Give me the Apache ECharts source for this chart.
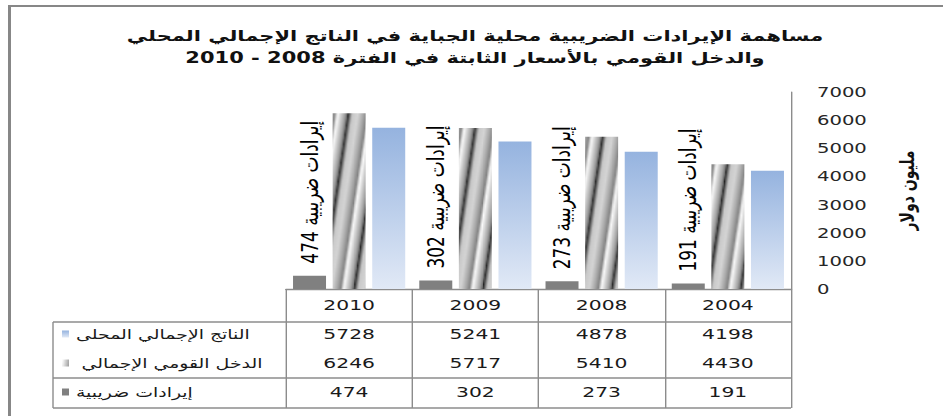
<!DOCTYPE html>
<html>
<head>
<meta charset="utf-8">
<script src="https://cdn.jsdelivr.net/npm/echarts@6/dist/echarts.min.js"></script>
<style>
  html, body { margin: 0; padding: 0; background: #ffffff; overflow: hidden; }
  #stage { position: absolute; left: 0; top: 0; width: 943px; height: 416px; overflow: hidden; background: #fff; }
  #chart { position: absolute; left: 0; top: 0; height: 416px; transform-origin: 0 0; }
</style>
</head>
<body>
<div id="stage"><div id="chart"></div></div>
<script>
// ---- data ----
const years = ['2004', '2008', '2009', '2010'];
const gdpValues = [4198, 4878, 5241, 5728];      // الناتج الإجمالي المحلى
const incomeValues = [4430, 5410, 5717, 6246];   // الدخل القومي الإجمالي
const taxValues = [191, 273, 302, 474];          // إيرادات ضريبية
const yMin = 0, yMax = 7000, yStep = 1000;

const gdpName = 'الناتج الإجمالي المحلى';
const incomeName = 'الدخل القومي الإجمالي';
const taxName = 'إيرادات ضريبية';
const yAxisTitle = 'مليون دولار';
const titleLines = [
  'مساهمة الإيرادات الضريبية محلية الجباية في الناتج الإجمالي المحلي',
  'والدخل القومي بالأسعار الثابتة في الفترة 2008 - 2010'
];

// ---- layout: the chart is drawn narrow and widened horizontally ----
const S = 1.4;                 // horizontal widening factor
const W = 943, H = 416;
const cw = W / S;
const sx = v => v / S;         // page x -> chart x

const gridL = 286, gridR = 791, gridT = 92, gridB = 289;
const tableL = 53, tableBottom = 408;
const rowLines = [322, 378, 408];
const yearRowY = 305;
const rowCenters = [334, 363, 392];
const lineColor = '#8c8c8c';
const textColor = '#1a1a1a';
const numFont = 'DejaVu Sans';
const arFont = 'DejaVu Sans';

// striped texture for the national income bars
function makeStripeTile() {
  const tw = 23, th = 215;
  const c = document.createElement('canvas');
  c.width = tw; c.height = th;
  const ctx = c.getContext('2d');
  const img = ctx.createImageData(tw, th);
  const stops = [[0, 250], [0.08, 215], [0.22, 160], [0.29, 110], [0.32, 35], [0.36, 95],
                 [0.45, 200], [0.62, 212], [0.78, 170], [0.9, 130], [0.95, 205], [1, 250]];
  const prof = t => {
    for (let i = 1; i < stops.length; i++) {
      if (t <= stops[i][0]) {
        const a = stops[i - 1], b = stops[i];
        return a[1] + (b[1] - a[1]) * (t - a[0]) / (b[0] - a[0]);
      }
    }
    return 250;
  };
  const slope = tw / th;
  for (let y = 0; y < th; y++) {
    for (let x = 0; x < tw; x++) {
      let t = ((x + slope * y) / tw) % 1;
      const v = Math.round(prof(t));
      const k = (y * tw + x) * 4;
      img.data[k] = v; img.data[k + 1] = v; img.data[k + 2] = v; img.data[k + 3] = 255;
    }
  }
  ctx.putImageData(img, 0, 0);
  return { image: c, imageWidth: tw, imageHeight: th, repeat: 'repeat' };
}

const el = document.getElementById('chart');
el.style.width = cw + 'px';
el.style.transform = 'scaleX(' + S + ')';
const chart = echarts.init(el, null, { renderer: 'svg', width: cw, height: H });

const stripe = makeStripeTile();
const blueFill = new echarts.graphic.LinearGradient(0, 0, 0, 1, [
  { offset: 0, color: '#95b3df' }, { offset: 1, color: '#e1e9f6' }
]);

// table rows built as extra category axes sharing the grid
function rowAxis(values, centerY) {
  return {
    type: 'category', data: years, inverse: true, gridIndex: 0, position: 'bottom',
    axisLine: { show: false }, axisTick: { show: false }, splitLine: { show: false },
    axisLabel: {
      interval: 0, margin: centerY - gridB, verticalAlign: 'middle',
      fontFamily: numFont, fontSize: 14.5, color: textColor,
      formatter: (v, i) => String(values[i])
    }
  };
}

function legendRow(name, centerY, extraPad) {
  return {
    data: [name], left: sx(62), top: centerY - 8, padding: 0,
    icon: 'rect', itemWidth: sx(7), itemHeight: 7, selectedMode: false,
    textStyle: { fontFamily: arFont, fontSize: 13.5, color: textColor, lineHeight: 16,
                 padding: [0, 0, 0, extraPad || 0] }
  };
}

const hLine = (x1, x2, y) => ({
  type: 'line', silent: true,
  shape: { x1: sx(x1), y1: y, x2: sx(x2), y2: y },
  style: { stroke: lineColor, lineWidth: 1.3 }
});

const option = {
  animation: false,
  backgroundColor: '#ffffff',
  title: {
    text: titleLines.join('\n'),
    left: sx(475), top: 25, padding: 0, textAlign: 'center',
    textStyle: { fontFamily: arFont, fontSize: 15, fontWeight: 'bold', color: '#111', lineHeight: 22 }
  },
  legend: [
    legendRow(gdpName, rowCenters[0]),
    legendRow(incomeName, rowCenters[1], 4),
    legendRow(taxName, rowCenters[2])
  ],
  grid: { left: sx(gridL), right: cw - sx(gridR), top: gridT, bottom: H - gridB, containLabel: false },
  xAxis: [
    {
      type: 'category', data: years, inverse: true, position: 'bottom',
      axisLine: { show: true, lineStyle: { color: lineColor, width: 1.3 } },
      axisTick: { show: true, interval: 0, length: tableBottom - gridB, lineStyle: { color: lineColor, width: 1 } },
      axisLabel: { interval: 0, margin: yearRowY - gridB, verticalAlign: 'middle',
                   fontFamily: numFont, fontSize: 14.5, color: textColor },
      splitLine: { show: false }
    },
    rowAxis(gdpValues, rowCenters[0]),
    rowAxis(incomeValues, rowCenters[1]),
    rowAxis(taxValues, rowCenters[2])
  ],
  yAxis: {
    type: 'value', position: 'right', min: yMin, max: yMax, interval: yStep,
    name: yAxisTitle, nameLocation: 'middle', nameRotate: 90, nameGap: sx(106),
    nameTextStyle: { fontFamily: arFont, fontSize: 14, fontWeight: 'bold', color: '#111' },
    axisLine: { show: true, lineStyle: { color: lineColor, width: 1 } },
    axisTick: { show: false },
    splitLine: { show: false },
    axisLabel: { margin: sx(26), fontFamily: numFont, fontSize: 14, color: '#262626',
                 formatter: v => String(v) }
  },
  series: [
    {
      name: taxName, type: 'bar', data: taxValues, barWidth: sx(33), barGap: '20%',
      itemStyle: { color: '#808080' },
      label: {
        show: true, position: 'top', rotate: 90, align: 'left', verticalAlign: 'middle',
        distance: 12, fontFamily: arFont, fontSize: 17, color: '#000',
        formatter: p => p.seriesName + ' ' + p.value
      }
    },
    { name: incomeName, type: 'bar', data: incomeValues, barWidth: sx(33), barGap: '20%',
      itemStyle: { color: stripe } },
    { name: gdpName, type: 'bar', data: gdpValues, barWidth: sx(33), barGap: '20%',
      itemStyle: { color: blueFill } }
  ],
  graphic: [
    // outer frame (top and left edges)
    { type: 'rect', silent: true, shape: { x: sx(8), y: 5, width: cw - sx(8), height: 2 }, style: { fill: '#878787' } },
    { type: 'rect', silent: true, shape: { x: sx(8), y: 5, width: sx(3), height: H - 5 }, style: { fill: '#878787' } },
    // data table rules
    hLine(tableL, gridR, rowLines[0]),
    hLine(tableL, gridR, rowLines[1]),
    hLine(tableL, gridR, rowLines[2]),
    { type: 'line', silent: true, shape: { x1: sx(tableL), y1: rowLines[0], x2: sx(tableL), y2: tableBottom },
      style: { stroke: lineColor, lineWidth: 1 } }
  ]
};
chart.setOption(option);
</script>
</body>
</html>
